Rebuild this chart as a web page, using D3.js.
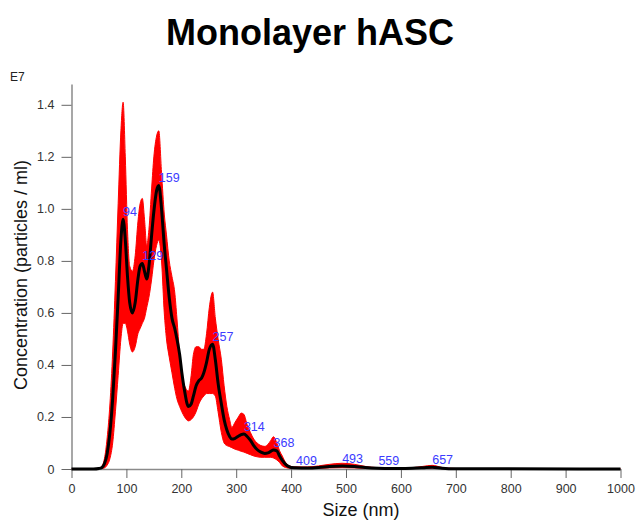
<!DOCTYPE html>
<html>
<head>
<meta charset="utf-8">
<script src="https://cdn.jsdelivr.net/npm/d3@7.9.0/dist/d3.min.js"></script>
<style>
  html, body { margin: 0; padding: 0; background: #fff; }
  svg { display: block; font-family: Arial, "Liberation Sans", sans-serif; }
</style>
</head>
<body>
<svg id="chart" width="641" height="521"></svg>
<script>
// size in nm, concentration in E7 particles / ml
const sizes = [0, 40, 50, 55, 60, 65, 70, 75, 80, 85, 90, 94, 98, 102, 106, 111, 116, 121, 125, 129,
  133, 137, 141, 146, 150, 155, 159, 164, 169, 173, 178, 183, 188, 192, 197, 201, 206, 213, 218, 222,
  227, 232, 237, 241, 246, 251, 257, 262, 267, 273, 278, 283, 288, 292, 298, 304, 309, 314, 320, 326,
  332, 338, 345, 352, 358, 363, 368, 374, 379, 384, 390, 395, 400, 409, 430, 450, 470, 493, 515, 535,
  559, 580, 600, 620, 640, 657, 675, 700, 1000];

const meanConc = [0, 0, 0.002, 0.005, 0.02, 0.06, 0.14, 0.27, 0.45, 0.66, 0.88, 0.96, 0.88, 0.74, 0.64, 0.60, 0.64, 0.73, 0.78, 0.79,
  0.76, 0.73, 0.78, 0.90, 0.99, 1.07, 1.09, 1.00, 0.86, 0.77, 0.66, 0.58, 0.54, 0.50, 0.44, 0.37, 0.30, 0.24, 0.25, 0.28,
  0.32, 0.34, 0.35, 0.37, 0.41, 0.46, 0.48, 0.42, 0.33, 0.25, 0.19, 0.15, 0.125, 0.115, 0.118, 0.126, 0.132, 0.135, 0.125, 0.11,
  0.09, 0.075, 0.065, 0.06, 0.062, 0.068, 0.073, 0.07, 0.05, 0.033, 0.018, 0.01, 0.006, 0.005, 0.004, 0.006, 0.01, 0.012, 0.01, 0.006,
  0.003, 0.002, 0.002, 0.003, 0.005, 0.007, 0.003, 0.001, 0];

const upperConc = [0, 0, 0.004, 0.01, 0.04, 0.12, 0.25, 0.45, 0.72, 1.02, 1.3, 1.41, 1.2, 0.92, 0.78, 0.76, 0.82, 0.95, 1.02, 1.04,
  0.96, 0.86, 0.92, 1.08, 1.2, 1.28, 1.30, 1.14, 0.98, 0.90, 0.80, 0.74, 0.68, 0.58, 0.44, 0.36, 0.32, 0.30, 0.36, 0.44,
  0.47, 0.47, 0.46, 0.46, 0.52, 0.62, 0.68, 0.58, 0.50, 0.42, 0.32, 0.24, 0.19, 0.16, 0.18, 0.20, 0.215, 0.21, 0.17, 0.14,
  0.115, 0.10, 0.09, 0.087, 0.095, 0.11, 0.124, 0.10, 0.07, 0.05, 0.025, 0.014, 0.01, 0.008, 0.008, 0.012, 0.018, 0.022, 0.018, 0.01,
  0.005, 0.004, 0.004, 0.005, 0.01, 0.014, 0.006, 0.002, 0];

const lowerConc = [0, 0, 0, 0.001, 0.004, 0.015, 0.04, 0.10, 0.22, 0.36, 0.50, 0.56, 0.56, 0.53, 0.48, 0.45, 0.47, 0.52, 0.54, 0.56,
  0.58, 0.62, 0.66, 0.73, 0.80, 0.86, 0.88, 0.80, 0.60, 0.50, 0.43, 0.37, 0.31, 0.27, 0.24, 0.22, 0.20, 0.185, 0.19, 0.20,
  0.22, 0.25, 0.27, 0.28, 0.29, 0.29, 0.29, 0.28, 0.22, 0.14, 0.10, 0.09, 0.086, 0.082, 0.076, 0.072, 0.068, 0.065, 0.06, 0.055,
  0.05, 0.047, 0.045, 0.045, 0.045, 0.045, 0.042, 0.035, 0.025, 0.012, 0.006, 0.003, 0.002, 0.002, 0.001, 0.002, 0.004, 0.005, 0.004, 0.002,
  0.001, 0.001, 0.001, 0.001, 0.002, 0.003, 0.001, 0, 0];

const peakSizes = [94, 129, 159, 257, 314, 368, 409, 493, 559, 657];
const xTicks = [0, 100, 200, 300, 400, 500, 600, 700, 800, 900, 1000];
const yTicks = [0, 0.2, 0.4, 0.6, 0.8, 1.0, 1.2, 1.4];

const svg = d3.select("#chart");

const x = d3.scaleLinear().domain([0, 1000]).range([71.5, 620.5]);
const y = d3.scaleLinear().domain([0, 1.48]).range([469, 84]);

const data = sizes.map((s, i) => ({ s, m: meanConc[i], hi: upperConc[i], lo: lowerConc[i] }));

// --- red band (spread) ---
const band = d3.area()
  .x(d => x(d.s))
  .y0(d => y(d.lo))
  .y1(d => y(d.hi))
  .curve(d3.curveMonotoneX);

svg.append("path")
  .datum(data)
  .attr("d", band)
  .attr("fill", "#ff0000")
  .attr("stroke", "#ff0000")
  .attr("stroke-width", 1);

// --- axes ---
const xAxis = svg.append("g")
  .attr("transform", `translate(0,${y(0)})`)
  .call(d3.axisBottom(x).tickValues(xTicks).tickSize(9).tickSizeOuter(0).tickPadding(6)
    .tickFormat(d3.format("d")));

const yAxis = svg.append("g")
  .attr("transform", `translate(${x(0)},0)`)
  .call(d3.axisLeft(y).tickValues(yTicks).tickSize(10).tickSizeOuter(0).tickPadding(7)
    .tickFormat(d => d === 0 ? "0" : d3.format(".1f")(d)));

[xAxis, yAxis].forEach(g => {
  g.select(".domain").attr("stroke", "#8a8a8a").attr("stroke-width", 1.5);
  g.selectAll(".tick line").attr("stroke", "#666");
  g.selectAll(".tick text")
    .attr("fill", "#333")
    .style("font-size", "12.5px")
    .style("font-family", "Arial, 'Liberation Sans', sans-serif");
});

// --- mean line ---
const line = d3.line()
  .x(d => x(d.s))
  .y(d => y(d.m))
  .curve(d3.curveMonotoneX);

svg.append("path")
  .datum(data)
  .attr("d", line)
  .attr("fill", "none")
  .attr("stroke", "#000")
  .attr("stroke-width", 3)
  .attr("stroke-linejoin", "round");

// --- peak labels ---
const meanAt = s => {
  const i = sizes.indexOf(s);
  return i >= 0 ? meanConc[i] : 0;
};

svg.append("g")
  .selectAll("text")
  .data(peakSizes)
  .join("text")
  .attr("x", d => x(d))
  .attr("y", d => y(meanAt(d)) - 3)
  .attr("fill", "#3c3cff")
  .style("font-size", "12.5px")
  .text(d => d);

// --- titles ---
svg.append("text")
  .attr("x", 310)
  .attr("y", 45)
  .attr("text-anchor", "middle")
  .style("font-size", "36px")
  .style("font-weight", "bold")
  .text("Monolayer hASC");

svg.append("text")
  .attr("x", 10)
  .attr("y", 81)
  .attr("fill", "#222")
  .style("font-size", "12px")
  .text("E7");

svg.append("text")
  .attr("x", 361)
  .attr("y", 516)
  .attr("text-anchor", "middle")
  .attr("fill", "#111")
  .style("font-size", "18px")
  .text("Size (nm)");

svg.append("text")
  .attr("transform", "translate(27,275) rotate(-90)")
  .attr("text-anchor", "middle")
  .attr("fill", "#111")
  .style("font-size", "18px")
  .text("Concentration (particles / ml)");
</script>
</body>
</html>
